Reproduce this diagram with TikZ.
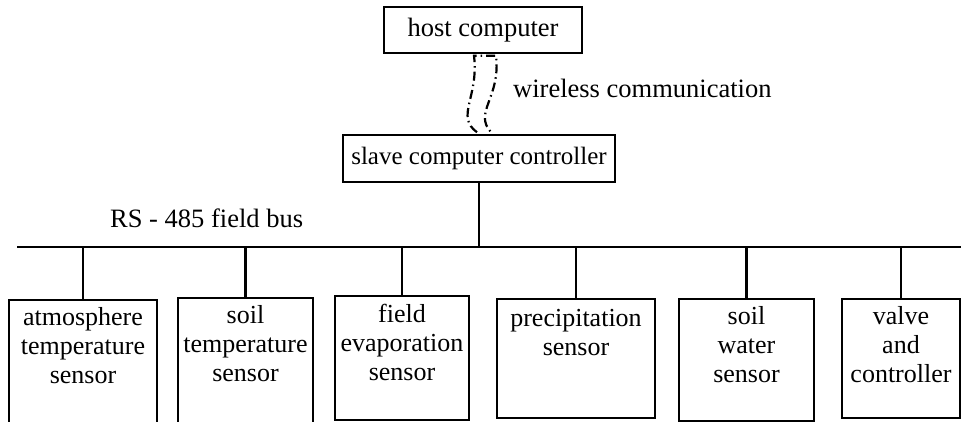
\documentclass[tikz,border=0pt]{standalone}
\usepackage{fontspec}
\setmainfont{Liberation Serif}
\usepackage{tikz}
\usetikzlibrary{positioning,calc}
\tikzset{
  unitbox/.style={draw, line width=2.5pt, inner sep=0pt, font=\fontsize{26.5}{29}\selectfont},
  sensorbox/.style={draw, line width=2.5pt, inner sep=0pt},
  sensortext/.style={align=center, inner sep=0pt, font=\fontsize{26}{29}\selectfont},
  labeltext/.style={inner sep=0pt, font=\fontsize{26.5}{29}\selectfont},
  busline/.style={line width=2.5pt},
  wirelesslink/.style={line width=2.2pt, dash pattern=on 9pt off 4pt on 1.5pt off 4pt}
}

\begin{document}
\begin{tikzpicture}[x=1pt, y=-1pt]
  \clip (0,0) rectangle (961,422);
  \node[unitbox, minimum width=198pt, minimum height=46pt] (host) at (483,30) {host computer};
  \node[unitbox, minimum width=272pt, minimum height=47pt, font=\fontsize{25}{29}\selectfont] (slave) at (479,158.5) {slave computer controller};
  \node[labeltext, anchor=base west] (wltext) at (513,98) {wireless communication};
  \coordinate (linklt) at ($(host.south)+(-9,1.5)$);
  \coordinate (linkrt) at ($(host.south)+(13,1.5)$);
  \coordinate (linklb) at ($(slave.north)+(-2,-1.5)$);
  \coordinate (linkrb) at ($(slave.north)+(12,-1.5)$);
  \draw[wirelesslink] (linklb) .. controls +(-22,-16) and +(5,42) .. (linklt) -- (linkrt)
    .. controls +(5,42) and +(-18,-20) .. (linkrb);

  \node[labeltext, anchor=base west] (bustext) at (110,227) {RS - 485 field bus};
  \coordinate (busleft) at (17,247);
  \coordinate (busright) at (961,247);
  \draw[busline] (busleft) -- (busright);
  \draw[busline] (slave.south) -- (slave.south |- busleft);

  \node[sensorbox, minimum width=148pt, minimum height=140pt] (atm) at (83,370) {};
  \node[sensortext, below=9pt of atm.north] (atmtext) {atmosphere\\temperature\\sensor};
  \node[sensorbox, minimum width=135pt, minimum height=142pt] (soiltemp) at (245.5,369) {};
  \node[sensortext, below=9pt of soiltemp.north] (soiltemptext) {soil\\temperature\\sensor};
  \node[sensorbox, minimum width=134pt, minimum height=124pt] (evap) at (402,358) {};
  \node[sensortext, below=9pt of evap.north] (evaptext) {field\\evaporation\\sensor};
  \node[sensorbox, minimum width=158pt, minimum height=119pt] (precip) at (576,358.5) {};
  \node[sensortext, below=11pt of precip.north] (preciptext) {precipitation\\sensor};
  \node[sensorbox, minimum width=135pt, minimum height=122pt] (soilwater) at (746.5,360) {};
  \node[sensortext, below=9pt of soilwater.north] (soilwatertext) {soil\\water\\sensor};
  \node[sensorbox, minimum width=118pt, minimum height=119pt] (valve) at (901,358.5) {};
  \node[sensortext, below=9pt of valve.north] (valvetext) {valve\\and\\controller};

  \draw[busline] (atm.north) -- (atm.north |- busleft);
  \draw[busline] (soiltemp.north) -- (soiltemp.north |- busleft);
  \draw[busline] (evap.north) -- (evap.north |- busleft);
  \draw[busline] (precip.north) -- (precip.north |- busleft);
  \draw[busline] (soilwater.north) -- (soilwater.north |- busleft);
  \draw[busline] (valve.north) -- (valve.north |- busleft);
\end{tikzpicture}
\end{document}
